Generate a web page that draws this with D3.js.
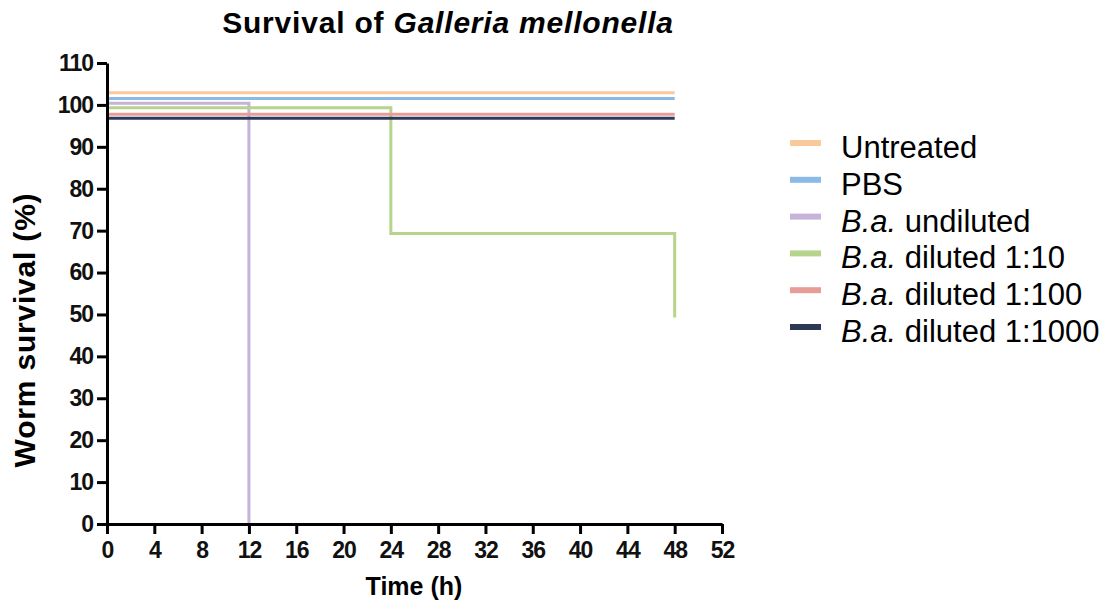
<!DOCTYPE html>
<html>
<head>
<meta charset="utf-8">
<script src="https://cdn.jsdelivr.net/npm/d3@7"></script>
<style>
  body { margin: 0; background: #fff; }
  svg { font-family: "Liberation Sans", Arial, sans-serif; }
  .axis path, .axis line { stroke: #000; stroke-width: 3px; }
</style>
</head>
<body>
<svg width="1107" height="600"></svg>
<script>
// グループ名（凡例の並び順）
const groups = ['Untreated', 'PBS', 'B.a. undiluted', 'B.a. diluted 1:10', 'B.a. diluted 1:100', 'B.a. diluted 1:1000']
const colors = ['#f9c89b', '#8cbae6', '#c5b3da', '#b7d48c', '#e69d98', '#2c3a57']

// 各群の時間と生存率（グラフ上で重ならないようにずらして描かれた値）
const untreatedTime = [0, 48]
const untreatedSurv = [102.9, 102.9]
const pbsTime = [0, 48]
const pbsSurv = [101.5, 101.5]
const undilutedTime = [0, 12]
const undilutedSurv = [100.4, 0]
const dil10Time = [0, 24, 48]
const dil10Surv = [99.3, 69.3, 49.3]
const dil100Time = [0, 48]
const dil100Surv = [97.8, 97.8]
const dil1000Time = [0, 48]
const dil1000Surv = [96.8, 96.8]

const xTicks = d3.range(0, 53, 4)
const yTicks = d3.range(0, 111, 10)

const series = [
  [untreatedTime, untreatedSurv],
  [pbsTime, pbsSurv],
  [undilutedTime, undilutedSurv],
  [dil10Time, dil10Surv],
  [dil100Time, dil100Surv],
  [dil1000Time, dil1000Surv]
]

const svg = d3.select('svg')

const xScale = d3.scaleLinear().domain([0, 52]).range([107, 722])
const yScale = d3.scaleLinear().domain([0, 110]).range([524, 63])

// 階段状の線（カプラン・マイヤー）
const line = d3.line()
  .x(d => xScale(d[0]))
  .y(d => yScale(d[1]))
  .curve(d3.curveStepAfter)

series.forEach((s, i) => {
  const pts = s[0].map((t, j) => [t, s[1][j]])
  svg.append('path')
    .datum(pts)
    .attr('fill', 'none')
    .attr('stroke', colors[i])
    .attr('stroke-width', 3)
    .attr('d', line)
})

// 軸
svg.append('g')
  .attr('class', 'axis')
  .attr('transform', 'translate(0,' + yScale(0) + ')')
  .call(d3.axisBottom(xScale).tickValues(xTicks).tickSize(10).tickSizeOuter(0).tickPadding(8))
  .attr('font-size', 23)
  .attr('font-weight', 'bold')
  .attr('font-family', '"Liberation Sans", Arial, sans-serif')

svg.append('g')
  .attr('class', 'axis')
  .attr('transform', 'translate(' + xScale(0) + ',0)')
  .call(d3.axisLeft(yScale).tickValues(yTicks).tickSize(10).tickSizeOuter(0).tickPadding(4))
  .attr('font-size', 23)
  .attr('font-weight', 'bold')
  .attr('font-family', '"Liberation Sans", Arial, sans-serif')

svg.selectAll('.axis text')
  .attr('fill', '#111')
  .attr('letter-spacing', '-1px')

// タイトル
const title = svg.append('text')
  .attr('x', 448).attr('y', 33)
  .attr('text-anchor', 'middle')
  .attr('letter-spacing', '0.8px')
  .style('font-size', '30px').style('font-weight', 'bold')
title.append('tspan').text('Survival of ')
title.append('tspan').style('font-style', 'italic').text('Galleria mellonella')

svg.append('text')
  .attr('x', 414).attr('y', 595)
  .attr('text-anchor', 'middle')
  .style('font-size', '25px').style('font-weight', 'bold')
  .text('Time (h)')

svg.append('text')
  .attr('transform', 'translate(35,330) rotate(-90)')
  .attr('text-anchor', 'middle')
  .attr('letter-spacing', '0.8px')
  .style('font-size', '30px').style('font-weight', 'bold')
  .text('Worm survival (%)')

// 凡例
const legend = svg.append('g')
legend.selectAll('rect')
  .data(groups)
  .enter()
  .append('rect')
  .attr('x', 790)
  .attr('y', (d, i) => 140 + i * 36.8)
  .attr('width', 31)
  .attr('height', 6)
  .attr('fill', (d, i) => colors[i])

legend.selectAll('text')
  .data(groups)
  .enter()
  .append('text')
  .attr('x', 841)
  .attr('y', (d, i) => 158 + i * 36.8)
  .style('font-size', '31px')
  .each(function (d) {
    const t = d3.select(this)
    if (d.startsWith('B.a.')) {
      t.append('tspan').style('font-style', 'italic').text('B.a.')
      t.append('tspan').text(d.slice(4))
    } else {
      t.text(d)
    }
  })
</script>
</body>
</html>
